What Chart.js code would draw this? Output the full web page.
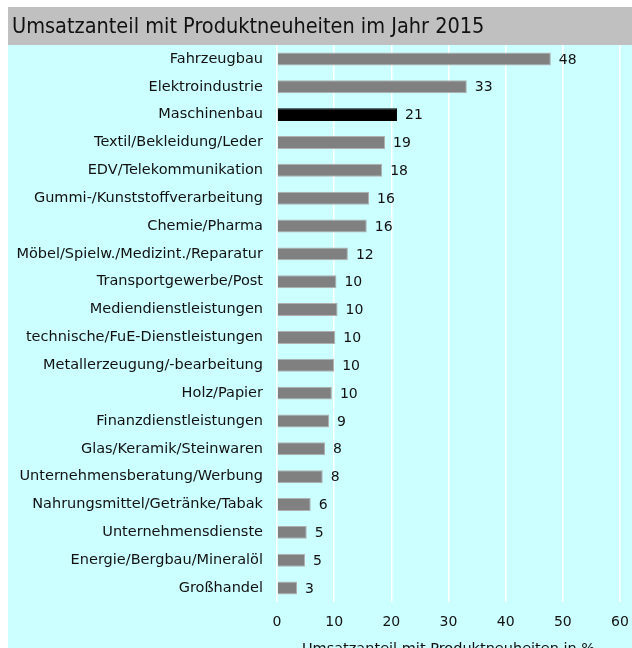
<!DOCTYPE html>
<html><head><meta charset="utf-8">
<script src="https://cdn.jsdelivr.net/npm/chart.js@4.4.1/dist/chart.umd.min.js"></script>
<style>
html,body{margin:0;padding:0;background:#fff;overflow:hidden;width:632px;height:648px}
#wrap{position:absolute;left:8px;top:7px;width:624px;height:660px}
</style></head>
<body>
<div id="wrap"><canvas id="c" width="624" height="660"></canvas></div>
<script>
const chartTitle = "Umsatzanteil mit Produktneuheiten im Jahr 2015";
const axisTitle = "Umsatzanteil mit Produktneuheiten in %";
const categories = [
  "Fahrzeugbau","Elektroindustrie","Maschinenbau","Textil/Bekleidung/Leder",
  "EDV/Telekommunikation","Gummi-/Kunststoffverarbeitung","Chemie/Pharma",
  "Möbel/Spielw./Medizint./Reparatur","Transportgewerbe/Post","Mediendienstleistungen",
  "technische/FuE-Dienstleistungen","Metallerzeugung/-bearbeitung","Holz/Papier",
  "Finanzdienstleistungen","Glas/Keramik/Steinwaren","Unternehmensberatung/Werbung",
  "Nahrungsmittel/Getränke/Tabak","Unternehmensdienste","Energie/Bergbau/Mineralöl","Großhandel"
];
const values = [47.9,33.2,21.0,18.9,18.4,16.1,15.7,12.4,10.4,10.6,10.2,10.0,9.6,9.1,8.4,8.0,5.9,5.2,4.9,3.5];
const valueLabels = ["48","33","21","19","18","16","16","12","10","10","10","10","10","9","8","8","6","5","5","3"];
const highlight = "Maschinenbau";
const xTicks = [0,10,20,30,40,50,60];

const FONT = "'DejaVu Sans',Verdana,sans-serif";
const TITLE_FONT = "'DejaVu Sans Condensed','DejaVu Sans',sans-serif";

const bgPlugin = {
  id:'bg',
  beforeDraw(chart){
    const ctx = chart.ctx;
    ctx.save();
    ctx.fillStyle = '#ccffff';
    ctx.fillRect(0,0,chart.width,chart.height);
    ctx.fillStyle = '#c0c0c0';
    ctx.fillRect(0,0,chart.width,38);
    ctx.fillStyle = '#111';
    ctx.font = "21.5px " + TITLE_FONT;
    ctx.textBaseline = 'middle';
    ctx.textAlign = 'left';
    ctx.fillText(chartTitle, 4, 20);
    ctx.restore();
  },
  afterDatasetsDraw(chart){
    const ctx = chart.ctx;
    const meta = chart.getDatasetMeta(0);
    ctx.save();
    ctx.fillStyle = '#111';
    ctx.font = "14px " + FONT;
    ctx.textBaseline = 'middle';
    ctx.textAlign = 'left';
    meta.data.forEach((el,i)=>{
      ctx.fillText(valueLabels[i], el.x + 8, el.y + 1);
    });
    ctx.restore();
  }
};

new Chart(document.getElementById('c'), {
  type:'bar',
  data:{
    labels:categories,
    datasets:[{
      data:values,
      backgroundColor:categories.map(c=>c===highlight?'#000000':'#808080'),
      borderColor:categories.map(c=>c===highlight?'#000000':'#b0b0b0'),
      borderWidth:1,
      barPercentage:0.93,
      categoryPercentage:0.5
    }]
  },
  plugins:[bgPlugin],
  options:{
    indexAxis:'y',
    responsive:false,
    animation:false,
    devicePixelRatio:1,
    layout:{padding:{top:38,left:0,right:12,bottom:8}},
    plugins:{legend:{display:false},tooltip:{enabled:false},title:{display:false}},
    scales:{
      x:{
        min:0,max:60,
        afterBuildTicks(s){ s.ticks = xTicks.map(v=>({value:v})); },
        afterFit(s){ s.height = 57; },
        grid:{color:'#ffffff',lineWidth:1.5,drawTicks:true,tickLength:12,tickColor:'rgba(0,0,0,0)'},
        border:{display:false},
        ticks:{color:'#111',font:{family:FONT,size:14},padding:0},
        title:{display:true,text:axisTitle,color:'#111',font:{family:FONT,size:14.5},padding:{top:7,bottom:1}}
      },
      y:{
        afterFit(s){ s.width = 269; },
        grid:{display:false,drawTicks:false},
        border:{display:false},
        ticks:{color:'#111',font:{family:FONT,size:14.5},padding:14,autoSkip:false}
      }
    }
  }
});
</script>
</body></html>
